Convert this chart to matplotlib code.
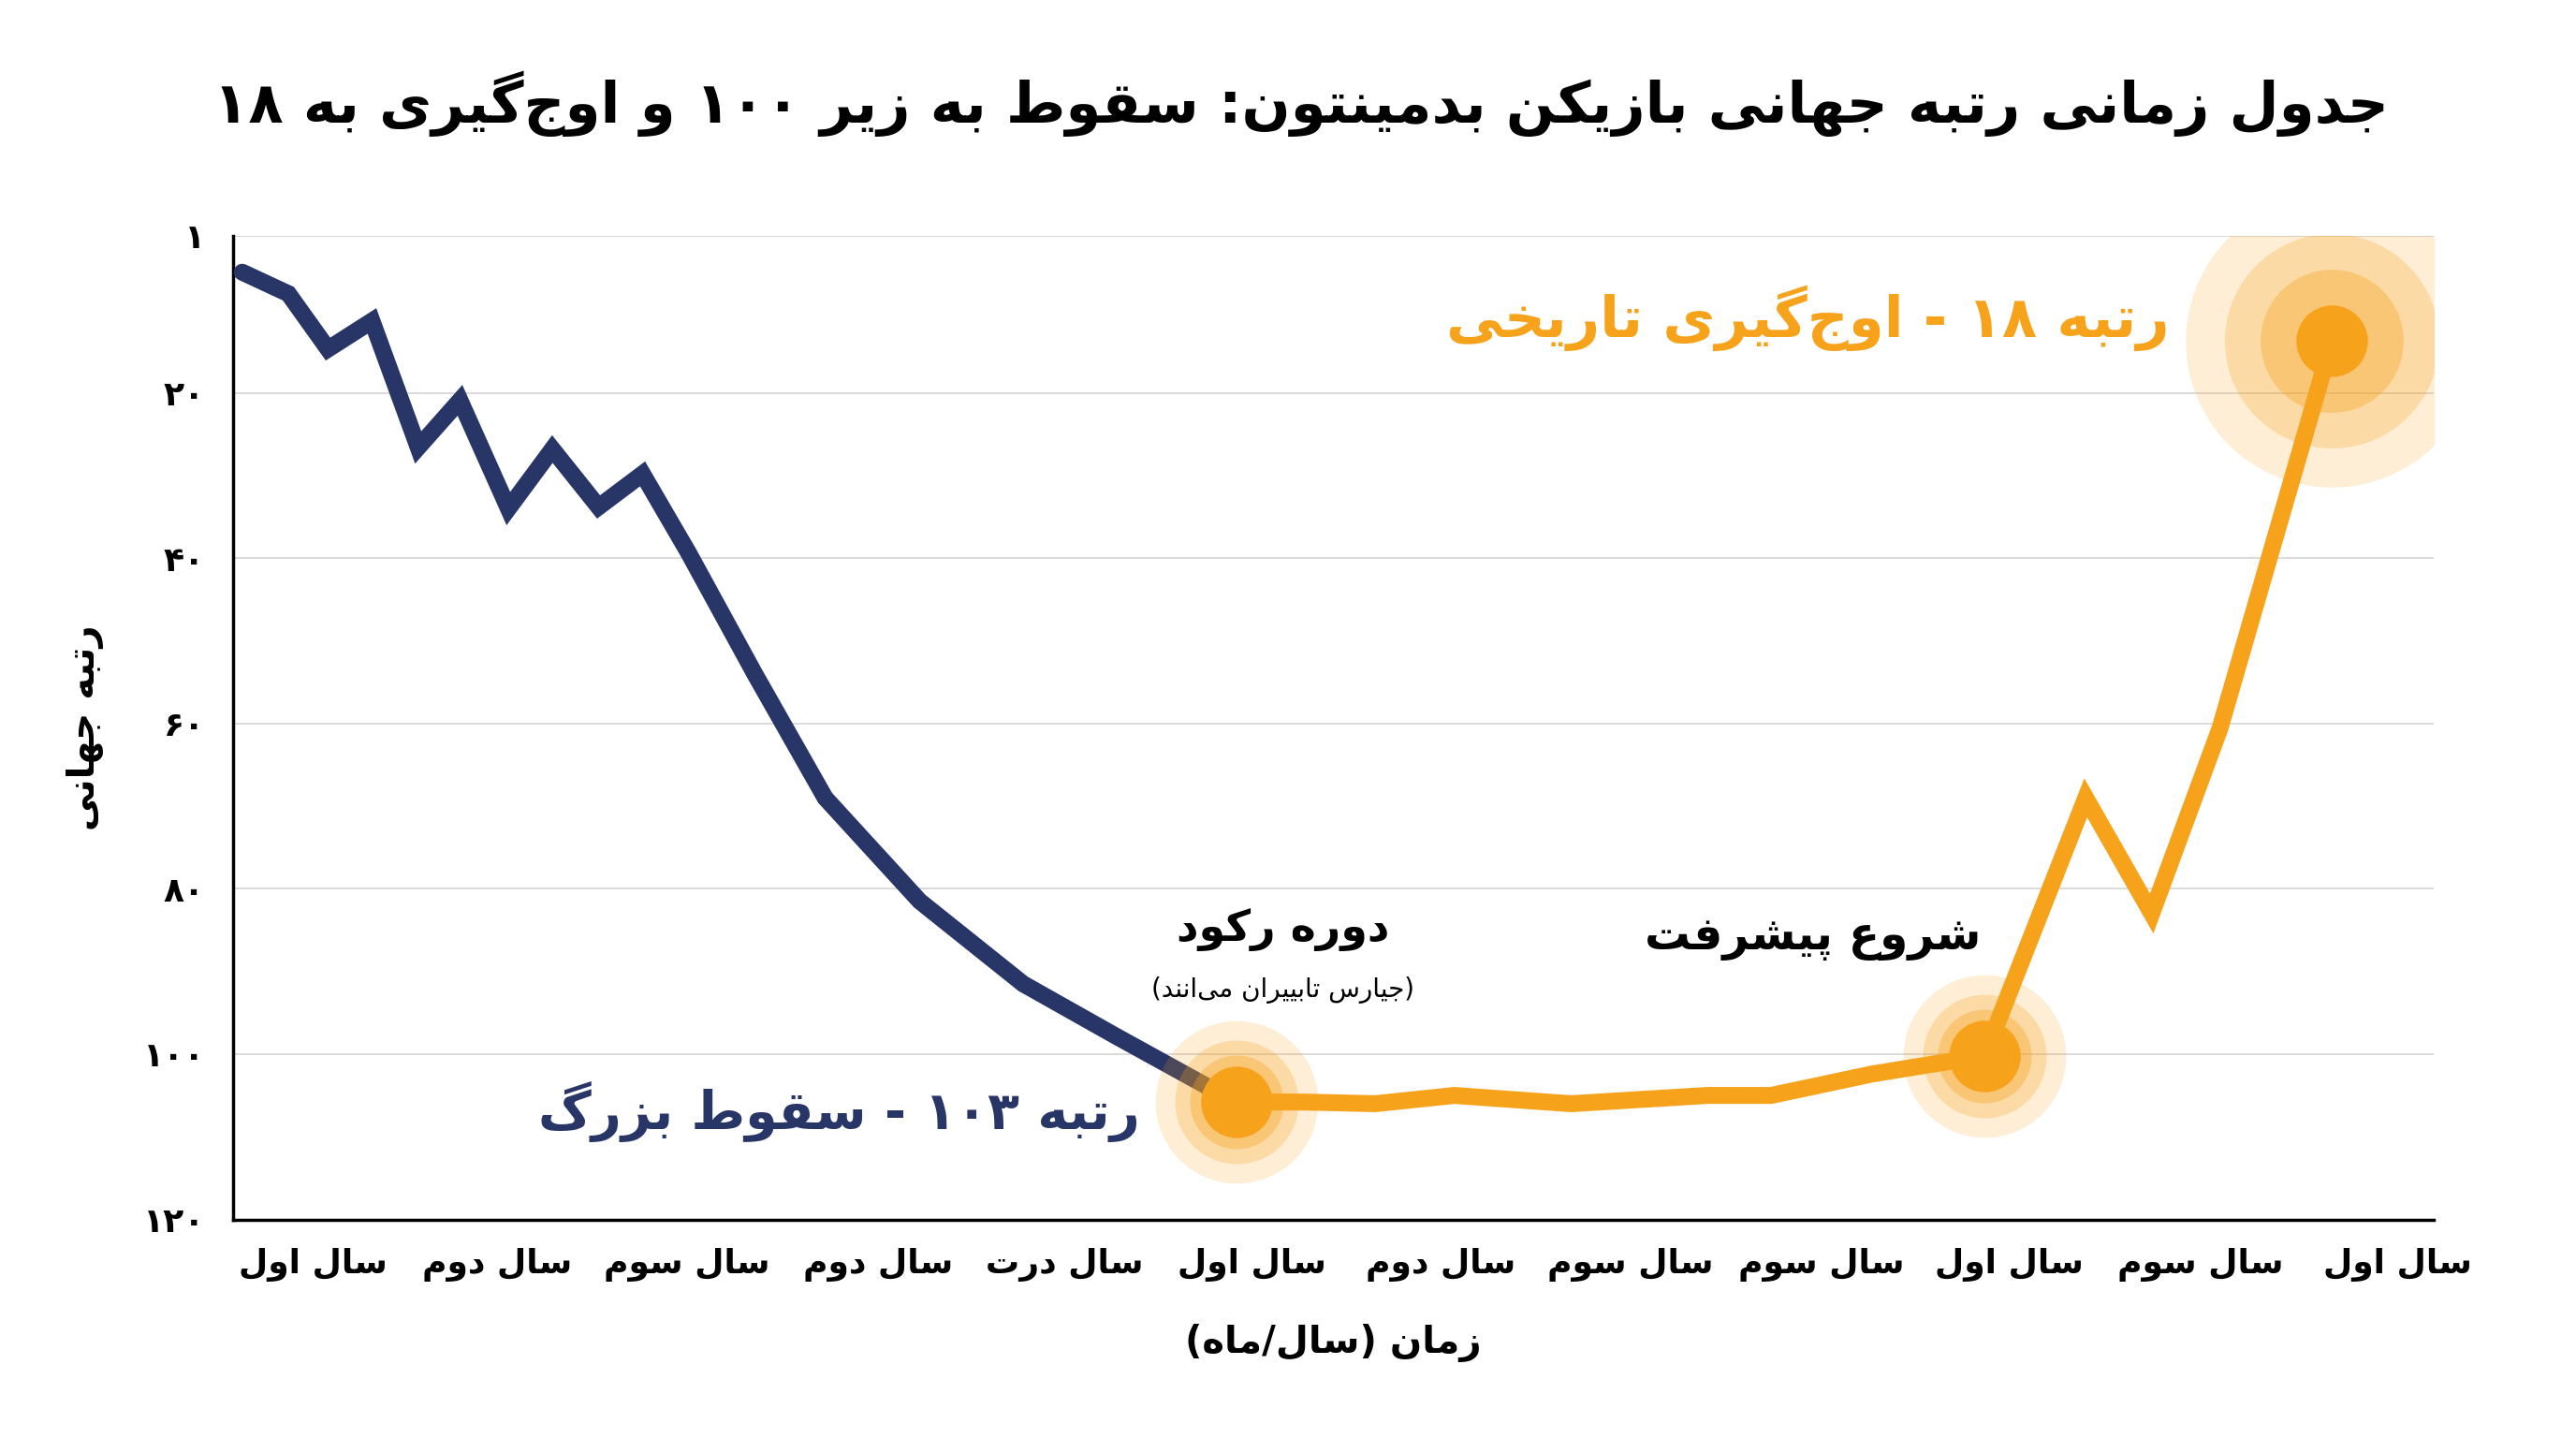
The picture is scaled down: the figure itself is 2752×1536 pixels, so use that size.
import matplotlib
matplotlib.use("Agg")
import matplotlib.pyplot as plt

# ---------- minimal Persian shaping ----------
FORMS = {
 'ا':(0xFE8D,0xFE8E,None,None),'آ':(0xFE81,0xFE82,None,None),
 'ب':(0xFE8F,0xFE90,0xFE91,0xFE92),'پ':(0xFB56,0xFB57,0xFB58,0xFB59),
 'ت':(0xFE95,0xFE96,0xFE97,0xFE98),'ث':(0xFE99,0xFE9A,0xFE9B,0xFE9C),
 'ج':(0xFE9D,0xFE9E,0xFE9F,0xFEA0),'چ':(0xFB7A,0xFB7B,0xFB7C,0xFB7D),
 'ح':(0xFEA1,0xFEA2,0xFEA3,0xFEA4),'خ':(0xFEA5,0xFEA6,0xFEA7,0xFEA8),
 'د':(0xFEA9,0xFEAA,None,None),'ذ':(0xFEAB,0xFEAC,None,None),
 'ر':(0xFEAD,0xFEAE,None,None),'ز':(0xFEAF,0xFEB0,None,None),'ژ':(0xFB8A,0xFB8B,None,None),
 'س':(0xFEB1,0xFEB2,0xFEB3,0xFEB4),'ش':(0xFEB5,0xFEB6,0xFEB7,0xFEB8),
 'ص':(0xFEB9,0xFEBA,0xFEBB,0xFEBC),'ض':(0xFEBD,0xFEBE,0xFEBF,0xFEC0),
 'ط':(0xFEC1,0xFEC2,0xFEC3,0xFEC4),'ظ':(0xFEC5,0xFEC6,0xFEC7,0xFEC8),
 'ع':(0xFEC9,0xFECA,0xFECB,0xFECC),'غ':(0xFECD,0xFECE,0xFECF,0xFED0),
 'ف':(0xFED1,0xFED2,0xFED3,0xFED4),'ق':(0xFED5,0xFED6,0xFED7,0xFED8),
 'ک':(0xFB8E,0xFB8F,0xFB90,0xFB91),'گ':(0xFB92,0xFB93,0xFB94,0xFB95),
 'ل':(0xFEDD,0xFEDE,0xFEDF,0xFEE0),'م':(0xFEE1,0xFEE2,0xFEE3,0xFEE4),
 'ن':(0xFEE5,0xFEE6,0xFEE7,0xFEE8),'ه':(0xFEE9,0xFEEA,0xFEEB,0xFEEC),
 'و':(0xFEED,0xFEEE,None,None),'ی':(0xFBFC,0xFBFD,0xFBFE,0xFBFF),
}
def fa(s):
    out = []
    n = len(s)
    for i, c in enumerate(s):
        if c == '\u200c':
            continue
        if c not in FORMS:
            out.append(c); continue
        p = s[i-1] if i > 0 else ''
        q = s[i+1] if i+1 < n else ''
        jp = p in FORMS and FORMS[p][2] is not None
        jn = FORMS[c][2] is not None and q in FORMS
        iso, fin, ini, med = FORMS[c]
        g = med if (jp and jn) else fin if jp else ini if jn else iso
        out.append(chr(g))
    out = out[::-1]
    res, i = [], 0
    isd = lambda ch: ch.isdigit()
    while i < len(out):
        if isd(out[i]):
            j = i
            while j < len(out) and isd(out[j]): j += 1
            res.extend(out[i:j][::-1]); i = j
        else:
            res.append({'(':')', ')':'('}.get(out[i], out[i])); i += 1
    return ''.join(res)

# ---------- data ----------
title = "جدول زمانی رتبه جهانی بازیکن بدمینتون: سقوط به زیر ۱۰۰ و اوج‌گیری به ۱۸"
fall_x = [0.4, 2.5, 4.3, 6.3, 8.4, 10.3, 12.5, 14.5, 16.6, 18.6, 20.7, 23.7, 26.9, 31.2, 35.9, 40.1, 44.6, 45.6]
fall_rank = [5.4, 8, 14.7, 11.3, 26.6, 20.9, 34, 26.8, 33.8, 29.8, 39.4, 54, 69, 81.5, 91.5, 97.8, 104.4, 105.8]
rise_x = [45.6, 48.7, 51.9, 55.5, 60.8, 67.0, 69.9, 74.5, 79.6, 84.2, 87.2, 90.3, 95.4]
rise_rank = [105.8, 105.8, 106, 105, 106, 105, 105, 102.4, 100.2, 69, 83, 60.6, 13.7]
xtick_pos = [3.6, 12.0, 20.6, 29.3, 37.8, 46.3, 54.9, 63.5, 72.2, 80.7, 89.4, 98.4]
xtick_labels = ["سال اول", "سال دوم", "سال سوم", "سال دوم", "سال درت", "سال اول",
                "سال دوم", "سال سوم", "سال سوم", "سال اول", "سال سوم", "سال اول"]
ytick_vals = [1, 20, 40, 60, 80, 100, 120]
ytick_labels = ["۱", "۲۰", "۴۰", "۶۰", "۸۰", "۱۰۰", "۱۲۰"]

NAVY = "#283567"
ORANGE = "#F7A21B"
FONT = ["DejaVu Sans"]

fig = plt.figure(figsize=(27.52, 15.36), dpi=100)
ax = fig.add_axes([0.0906, 0.152, 0.854, 0.684])
ax.set_xlim(0, 100)
ax.set_ylim(120, 1)

ax.plot(fall_x, fall_rank, color=NAVY, lw=13, solid_capstyle='round', solid_joinstyle='miter', zorder=3)
ax.plot(rise_x, rise_rank, color=ORANGE, lw=13, solid_capstyle='round', solid_joinstyle='miter', zorder=3)

def glow(x, y, big):
    sizes = [225, 165, 110] if big else [125, 95, 72]
    alphas = [0.18, 0.25, 0.35]
    for s, a in zip(sizes, alphas):
        ax.plot(x, y, 'o', ms=s, color=ORANGE, alpha=a, mec='none', zorder=4)
    ax.plot(x, y, 'o', ms=55, color=ORANGE, mec='none', zorder=5)

glow(rise_x[0], rise_rank[0], False)
glow(rise_x[8], rise_rank[8], False)
glow(rise_x[-1], rise_rank[-1], True)

ax.set_yticks(ytick_vals)
ax.set_yticklabels([fa(t) for t in ytick_labels], fontsize=26, fontweight='bold', family=FONT)
ax.set_xticks(xtick_pos)
ax.set_xticklabels([fa(t) for t in xtick_labels], fontsize=26, fontweight='bold', family=FONT)
ax.tick_params(length=0, pad=22)
ax.grid(axis='y', color='#d8d8d8', lw=1.3)
ax.set_axisbelow(True)
for s in ['top', 'right']:
    ax.spines[s].set_visible(False)
for s in ['left', 'bottom']:
    ax.spines[s].set_linewidth(2.5)
    ax.spines[s].set_color('black')

ax.set_ylabel(fa("رتبه جهانی"), fontsize=29, fontweight='bold', family=FONT, labelpad=30)
ax.set_xlabel(fa("زمان (سال/ماه)"), fontsize=29, fontweight='bold', family=FONT, labelpad=32)

fig.text(0.505, 0.928, fa(title), ha='center', va='center', fontsize=44, fontweight='bold', family=FONT)

ax.text(41.2, 107.0, fa("رتبه ۱۰۳ - سقوط بزرگ"), color=NAVY, ha='right', va='center',
        fontsize=40, fontweight='bold', family=FONT)
ax.text(88.0, 11.0, fa("رتبه ۱۸ - اوج‌گیری تاریخی"), color=ORANGE, ha='right', va='center',
        fontsize=44, fontweight='bold', family=FONT)
ax.text(47.7, 85.0, fa("دوره رکود"), ha='center', va='center', fontsize=33, fontweight='bold', family=FONT)
ax.text(47.7, 92.3, fa("(جیارس تابییران می‌انند)"), ha='center', va='center', fontsize=20, family=FONT)
ax.text(71.8, 86.0, fa("شروع پیشرفت"), ha='center', va='center', fontsize=35, fontweight='bold', family=FONT)

fig.savefig("out.png", dpi=100, facecolor='white')
